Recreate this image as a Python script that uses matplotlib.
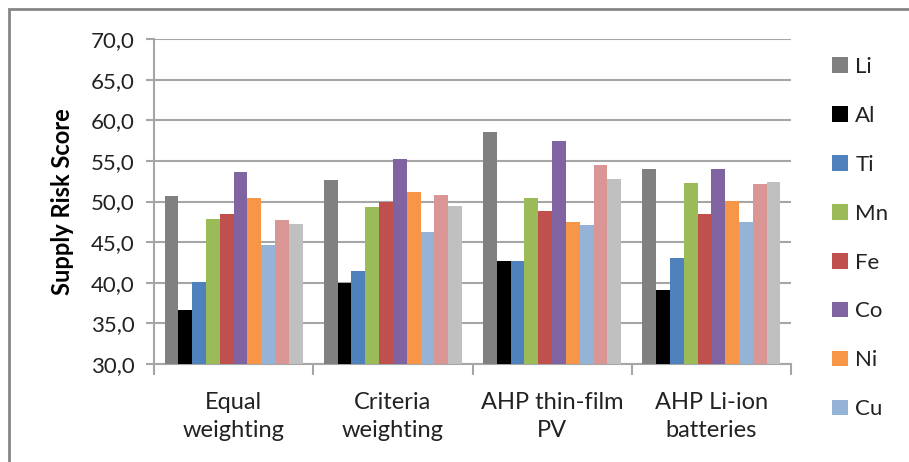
import numpy as np
import matplotlib
matplotlib.use("Agg")
import matplotlib.pyplot as plt
from matplotlib.patches import Rectangle, Patch

plt.rcParams['font.family'] = ['Lato', 'DejaVu Sans']

# supply risk scores per weighting scheme
schemes = ['Equal\nweighting', 'Criteria\nweighting', 'AHP thin-film\nPV', 'AHP Li-ion\nbatteries']
elements = ['Li', 'Al', 'Ti', 'Mn', 'Fe', 'Co', 'Ni', 'Cu', 'Zn', 'Sn']
li = [50.7, 52.6, 58.6, 54.0]
al = [36.7, 40.0, 42.7, 39.1]
ti = [40.1, 41.5, 42.7, 43.1]
mn = [47.9, 49.3, 50.4, 52.3]
fe = [48.5, 50.0, 48.8, 48.5]
co = [53.6, 55.2, 57.5, 54.0]
ni = [50.4, 51.2, 47.5, 50.1]
cu = [44.7, 46.3, 47.1, 47.5]
zn = [47.7, 50.8, 54.5, 52.2]
sn = [47.2, 49.4, 52.8, 52.4]
series = [li, al, ti, mn, fe, co, ni, cu, zn, sn]
colors = ['#808080', '#000000', '#4F81BD', '#9BBB59', '#C0504D',
          '#8064A2', '#F79646', '#95B3D7', '#D99694', '#C0C0C0']

W, H = 909, 462
fig = plt.figure(figsize=(W / 100, H / 100), dpi=100)
ax = fig.add_axes([154 / W, 1 - 364 / H, (791 - 154) / W, (364 - 39) / H])

x = np.arange(len(schemes))
w = 0.0868
for k, (vals, c) in enumerate(zip(series, colors)):
    ax.bar(x + (k - 4.5) * w, np.array(vals) - 30, width=w, bottom=30, color=c, zorder=3)

ax.set_xlim(-0.5, 3.5)
ax.set_ylim(30, 70)
ax.set_yticks(np.arange(30, 71, 5))
ax.set_yticklabels([f'{v:.1f}'.replace('.', ',') for v in np.arange(30, 71, 5)])
ax.yaxis.grid(True, color='#a6a6a6', linewidth=1.5, zorder=0)
ax.set_axisbelow(True)

ax.set_xticks(x)
ax.set_xticklabels(schemes, linespacing=1.42)
ax.set_xticks(np.arange(-0.5, 3.6, 1), minor=True)
ax.tick_params(axis='x', which='major', length=0, pad=20, labelsize=17, colors='#222222')
ax.tick_params(axis='x', which='minor', length=8, width=1.5, color='#a6a6a6', direction='out')
ax.tick_params(axis='y', length=6, width=1.5, color='#a6a6a6', labelsize=16, pad=8, labelcolor='#222222')

for s in ['top', 'right']:
    ax.spines[s].set_visible(False)
for s in ['left', 'bottom']:
    ax.spines[s].set_color('#a6a6a6')
    ax.spines[s].set_linewidth(1.5)

ax.set_ylabel('Supply Risk Score', fontsize=17, fontweight='bold', labelpad=12)

# legend only lists the first eight elements
handles = [Patch(facecolor=c, edgecolor='none') for c in colors[:8]]
fig.legend(handles, elements[:8], loc='upper left', bbox_to_anchor=(832 / W, 1 - 57 / H),
           frameon=False, fontsize=16, handlelength=0.7, handleheight=0.7,
           handletextpad=0.35, labelspacing=1.3, borderaxespad=0, borderpad=0,
           labelcolor='#222222')

# chart area border
fig.patches.append(Rectangle((9 / W, -0.2), 1.2, 1.2 - 9 / H, transform=fig.transFigure,
                             fill=False, edgecolor='#868686', linewidth=2))

fig.savefig('out.png', dpi=100)
